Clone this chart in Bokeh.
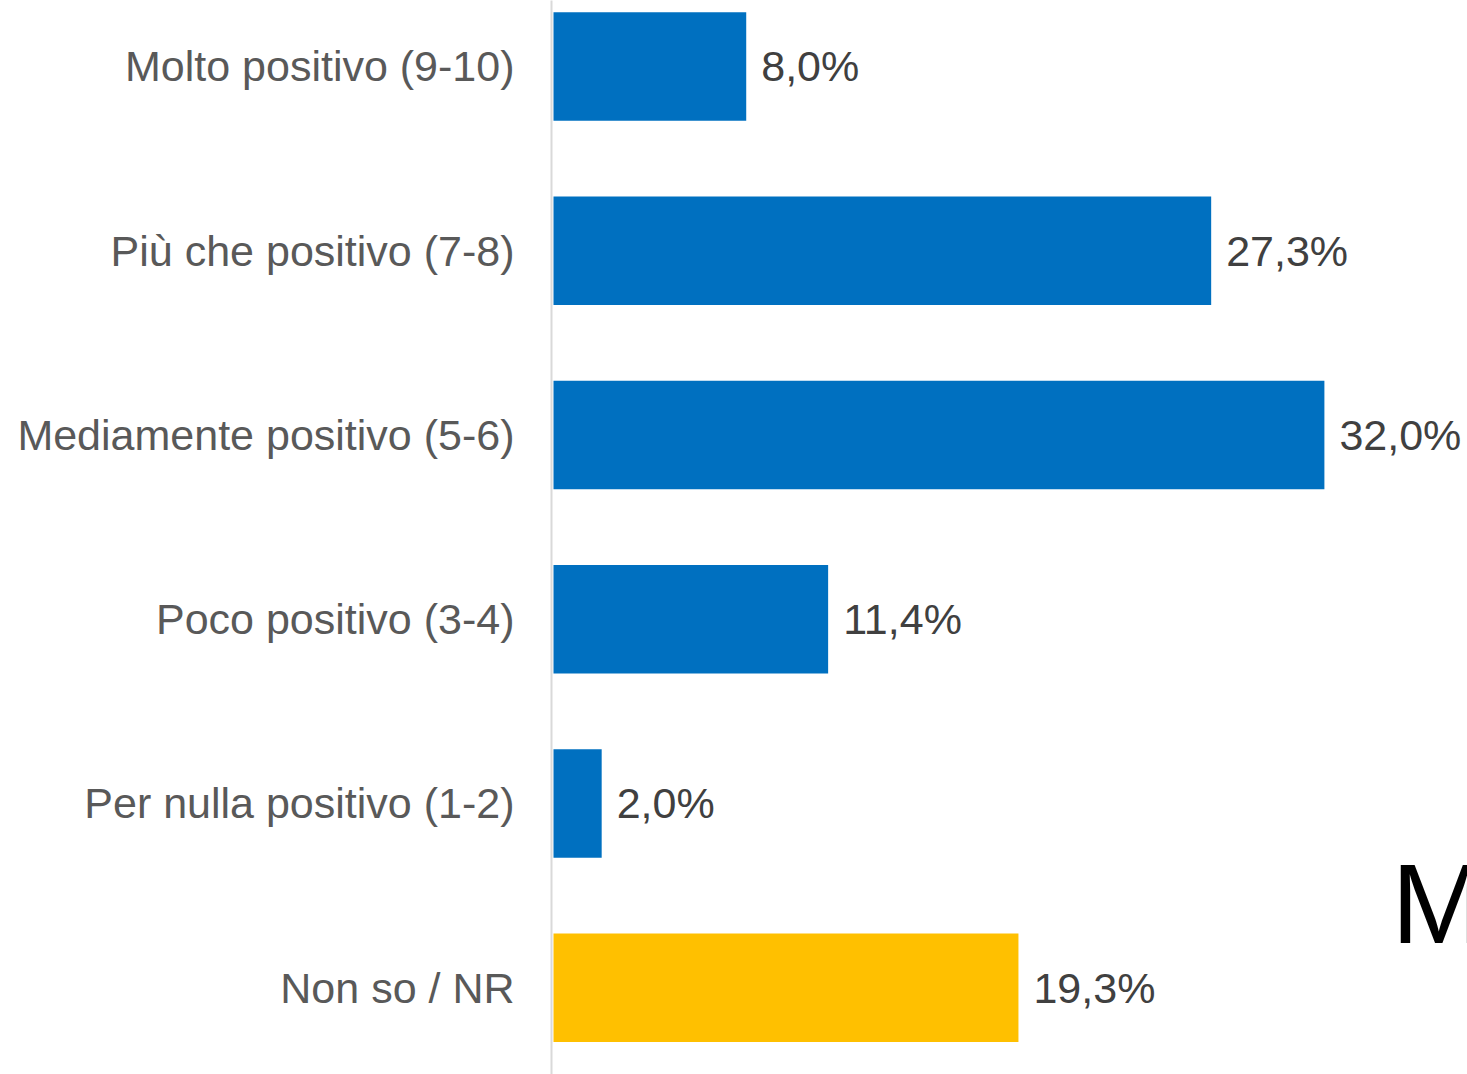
from bokeh.plotting import figure
from bokeh.models import ColumnDataSource, Range1d, FixedTicker, Label
from bokeh.core.properties import value
from bokeh.embed import file_html
from bokeh.resources import INLINE

# ---- data ----
categories = [
    "Molto positivo (9-10)",
    "Più che positivo (7-8)",
    "Mediamente positivo (5-6)",
    "Poco positivo (3-4)",
    "Per nulla positivo (1-2)",
    "Non so / NR",
]
values = [8.0, 27.3, 32.0, 11.4, 2.0, 19.3]
bar_colors = ["#0070C0", "#0070C0", "#0070C0", "#0070C0", "#0070C0", "#FFC000"]

n = len(categories)
ypos = [n - 1 - i for i in range(n)]
labels = [f"{v:.1f}".replace(".", ",") + "%" for v in values]

src = ColumnDataSource(dict(y=ypos, v=values, c=bar_colors, lab=labels))

FONT = "Liberation Sans"

p = figure(
    width=1467, height=1074,
    output_backend="svg", toolbar_location=None,
    x_range=Range1d(-0.083, 37.94),
    y_range=Range1d(-0.471, 5.358),
    min_border_left=551, min_border_right=0, min_border_top=0, min_border_bottom=0,
)
p.outline_line_color = None
p.xgrid.visible = False
p.ygrid.visible = False
p.xaxis.visible = False
p.background_fill_color = "white"
p.border_fill_color = "white"

p.hbar(y="y", right="v", left=0, height=0.588, fill_color="c", line_color=None, source=src)

p.text(x="v", y="y", text="lab", source=src, x_offset=15,
       text_baseline="middle", text_align="left",
       text_font=value(FONT), text_font_size="43px", text_color="#404040")

yax = p.yaxis[0]
yax.ticker = FixedTicker(ticks=ypos)
yax.major_label_overrides = {int(y): c for y, c in zip(ypos, categories)}
yax.major_label_text_font = FONT
yax.major_label_text_font_size = "43px"
yax.major_label_text_color = "#595959"
yax.major_label_standoff = 31
yax.major_tick_line_color = None
yax.minor_tick_line_color = None
yax.axis_line_color = "#D9D9D9"
yax.axis_line_width = 2

p.add_layout(Label(x=34.79, y=0.452, text="M", text_font=FONT, text_font_size="113px",
                   text_color="black", text_baseline="alphabetic", text_align="left"))

open("out.html", "w").write(file_html(p, INLINE))
